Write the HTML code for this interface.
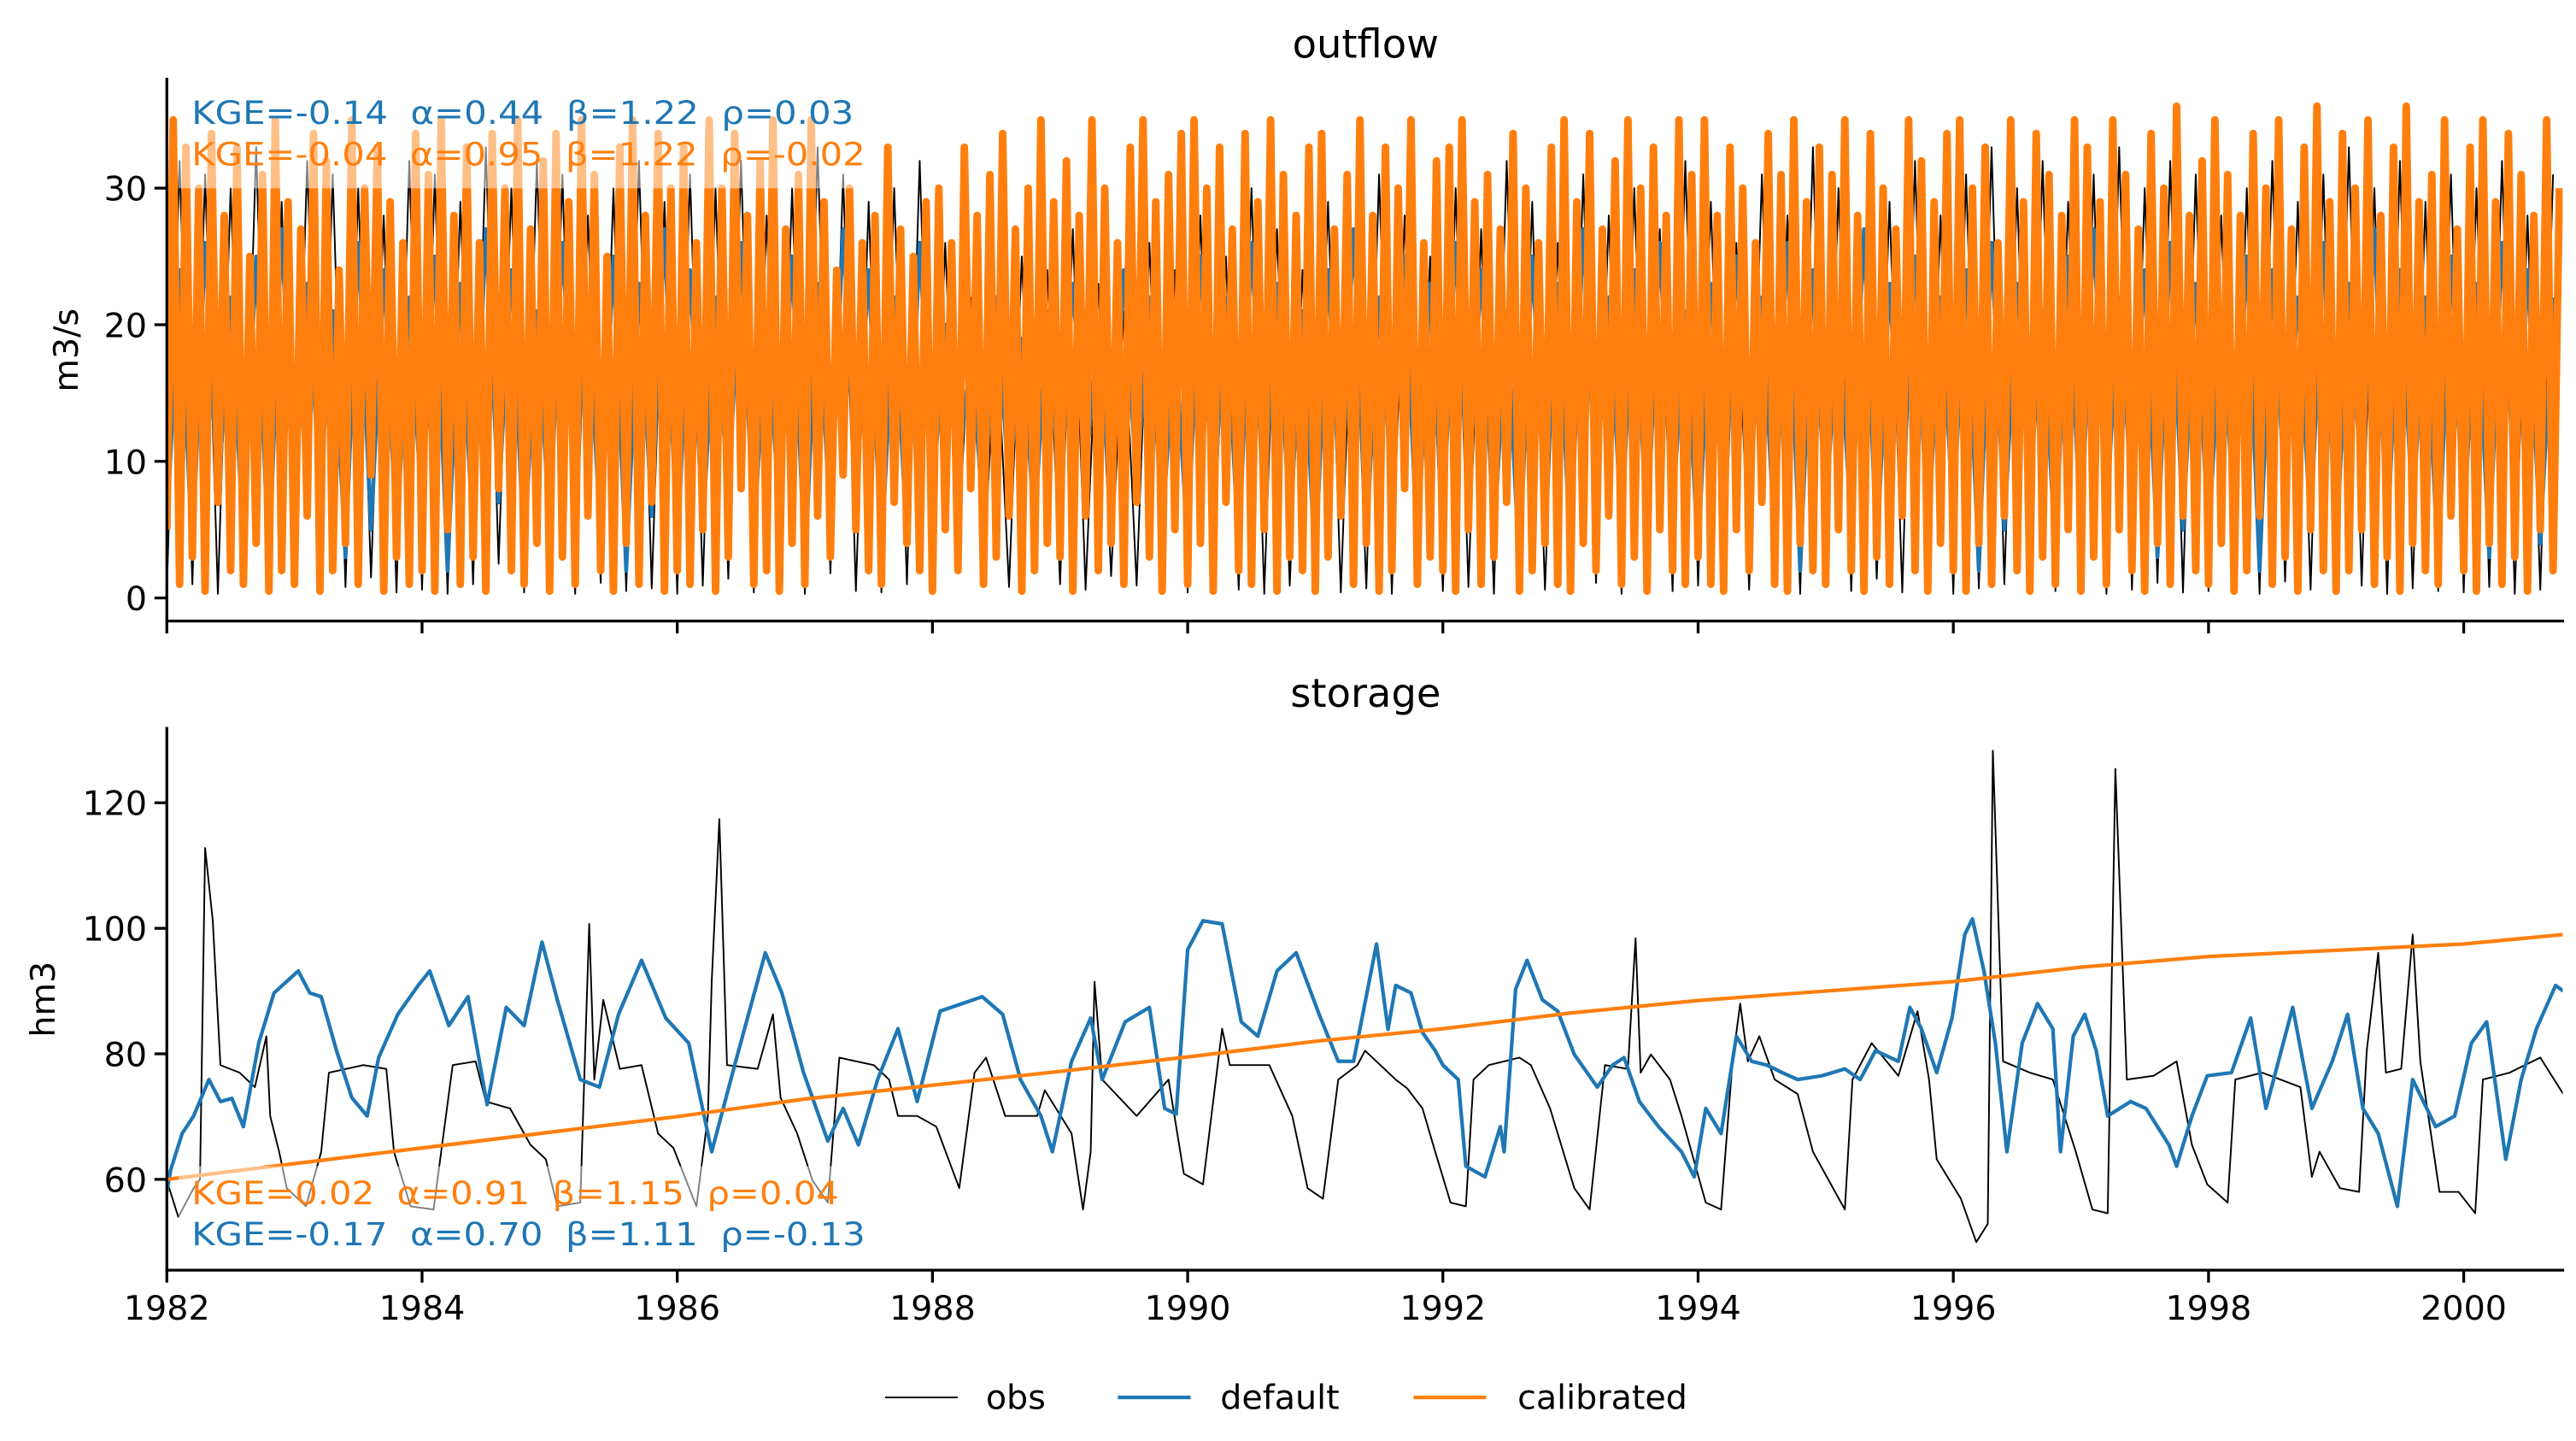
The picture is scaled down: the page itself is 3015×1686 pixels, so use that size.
<!DOCTYPE html>
<html><head><meta charset="utf-8"><style>
html,body{margin:0;padding:0;background:#fff;}
svg{display:block;font-family:"DejaVu Sans","Liberation Sans",sans-serif;}
</style></head><body>
<svg id="fig" xmlns="http://www.w3.org/2000/svg" width="3015" height="1686" viewBox="0 0 1560 872.4">
<rect x="0" y="0" width="1560" height="872.4" fill="#fff"/>
<g id="topPanel"></g>
<g id="botPanel"></g>
<g id="legend"></g>
</svg>
<script>
// ---------- data ----------
const years = [1982,1984,1986,1988,1990,1992,1994,1996,1998,2000];
const outflowTicks = [0,10,20,30];
const storageTicks = [60,80,100,120];
const outStart = 1982.0;
// calibrated outflow: peaks and troughs per 0.1 yr
const calHi = [35,33,30,34,28,33,25,31,35,29, 27,34,32,24,35,30,33,29,26,34, 31,35,28,33,26,34,30,35,27,32, 34,29,35,31,25,33,35,28,34,30, 33,26,35,30,34,28,32,35,27,31, 35,29,24,30,26,28,33,27,25,29, 30,26,33,28,31,34,27,30,35,29, 32,28,35,30,26,33,35,29,31,34, 35,30,33,27,34,29,35,31,28,33, 34,27,31,35,28,33,30,35,26,32, 33,35,29,31,27,34,30,26,33,35, 29,34,27,32,35,30,33,28,35,31, 35,28,33,30,26,34,31,35,29,33, 31,35,28,34,30,27,35,32,29,34, 35,30,33,26,35,29,34,31,28,35, 33,29,35,31,27,34,30,36,28,32, 35,31,28,34,30,35,27,33,36,29, 34,30,35,28,33,36,29,31,35,27, 33,35,29,34,31,28,35,30];
const calLo = [5,1,3,0.5,7,2,1,4,0.5,2, 1,6,0.5,2,4,1,9,0.5,3,1, 2,0.5,5,1,3,0.5,8,2,1,4, 0.5,3,1,6,2,0.5,4,1,7,0.5, 2,1,5,0.5,3,8,1,2,0.5,4, 1,6,3,9,5,2,1,7,4,2, 0.5,5,2,8,1,3,6,0.5,2,4, 3,0.5,6,2,4,1,7,3,0.5,5, 1,4,0.5,7,2,1,5,0.5,3,2, 0.5,3,6,1,4,0.5,2,8,1,3, 2,0.5,5,1,3,7,0.5,2,4,1, 0.5,4,2,6,1,3,0.5,5,2,1, 3,1,0.5,5,2,7,1,0.5,4,2, 1,5,2,0.5,3,1,6,2,0.5,4, 2,0.5,4,1,6,2,0.5,3,1,5, 0.5,3,1,5,2,0.5,4,1,6,2, 1,4,0.5,2,6,1,3,0.5,5,2, 0.5,2,5,1,3,0.5,4,2,1,6, 2,0.5,4,1,3,0.5,5,2];
// observed / default outflow: per 0.2 yr
const obsHi = [32,31,30,33,29,32,31,30,28,32, 31,29,33,30,32,31,28,30,32,29, 31,30,32,28,30,33,31,29,30,32, 26,22,20,25,24,27,23,21,26,24, 28,25,30,27,24,29,26,31,28,25, 30,27,32,29,26,31,28,30,27,32, 29,26,31,28,33,30,27,29,32,28, 31,33,30,32,29,31,33,30,32,31, 28,30,32,29,31,33,30,32,29,31, 30,32,28,31];
const obsLo = [0.5,1,0.3,2,0.4,1.2,0.3,0.8,1.5,0.4, 0.6,0.3,1,2.5,0.4,0.8,0.3,1.1,0.5,0.7, 0.3,0.9,1.4,0.4,0.6,0.3,1.8,0.5,0.4,1, 2,3,1.5,0.8,2.2,1,0.6,1.6,0.9,0.5, 0.4,1.2,0.6,0.3,0.9,1.5,0.4,0.7,0.3,1, 0.5,0.8,0.3,1.3,0.6,0.4,1.1,0.3,0.7,0.5, 0.9,0.4,0.6,1.2,0.3,0.8,0.5,1.4,0.4,0.6, 0.3,0.7,1,0.4,0.5,0.9,0.3,0.6,1.1,0.4, 0.5,0.8,0.3,1.2,0.6,0.4,0.9,0.3,0.7,0.5, 0.4,0.8,0.3,0.6];
const defHi = [24,26,22,25,27,23,21,26,24,22, 25,23,27,24,21,26,22,25,23,27, 24,22,26,21,25,23,27,24,22,26, 20,18,22,19,21,23,20,24,22,19, 25,22,26,23,21,24,27,22,25,23, 26,24,21,25,23,27,22,24,26,21, 23,25,22,26,24,21,27,23,25,22, 24,26,23,21,25,27,22,24,26,23, 21,25,24,22,26,23,27,24,22,25, 23,26,24,22];
const defLo = [5,3,7,4,2,6,8,3,5,4, 6,2,4,7,3,5,8,4,2,6, 3,5,7,4,6,2,5,8,3,4, 7,9,6,8,5,7,9,6,8,5, 4,6,3,7,5,2,6,4,8,3, 5,7,4,2,6,3,8,5,4,6, 3,5,7,4,2,6,5,3,7,4, 6,2,5,8,3,4,6,7,3,5, 4,6,2,7,5,3,8,4,6,2, 5,3,7,4];
// storage series (time, value)
const obsST = [1982.0,1982.09,1982.21,1982.26,1982.3,1982.36,1982.42,1982.57,1982.69,1982.78,1982.81,1982.88,1982.94,1983.09,1983.21,1983.27,1983.54,1983.72,1983.78,1983.91,1984.09,1984.24,1984.42,1984.5,1984.69,1984.85,1984.97,1985.06,1985.24,1985.31,1985.35,1985.42,1985.55,1985.72,1985.85,1985.97,1986.15,1986.24,1986.27,1986.33,1986.39,1986.63,1986.75,1986.81,1986.94,1987.06,1987.18,1987.27,1987.54,1987.66,1987.73,1987.88,1988.03,1988.21,1988.33,1988.42,1988.57,1988.82,1988.88,1989.09,1989.18,1989.24,1989.27,1989.33,1989.6,1989.85,1989.97,1990.12,1990.27,1990.33,1990.64,1990.82,1990.94,1991.06,1991.18,1991.33,1991.39,1991.63,1991.72,1991.84,1991.94,1992.06,1992.18,1992.24,1992.36,1992.6,1992.69,1992.84,1993.03,1993.15,1993.27,1993.45,1993.51,1993.55,1993.63,1993.78,1993.87,1994.06,1994.18,1994.27,1994.33,1994.39,1994.48,1994.6,1994.78,1994.9,1995.15,1995.21,1995.36,1995.57,1995.72,1995.81,1995.87,1996.06,1996.18,1996.27,1996.31,1996.39,1996.6,1996.78,1996.96,1997.09,1997.21,1997.27,1997.36,1997.57,1997.75,1997.87,1997.99,1998.15,1998.21,1998.42,1998.72,1998.81,1998.87,1999.03,1999.18,1999.24,1999.33,1999.39,1999.51,1999.6,1999.66,1999.81,1999.96,2000.09,2000.15,2000.36,2000.6,2000.78];
const obsSV = [59.8,54,58.6,60,112.8,101.2,78.2,77,74.7,82.8,70.1,64.4,58.6,55.7,64.4,77,78.2,77.6,64.4,55.7,55.2,78.2,78.8,72.4,71.3,65.5,63.2,55.7,56.3,100.7,75.9,88.6,77.6,78.2,67.3,65,55.7,70.1,91.5,117.4,78.2,77.6,86.3,73,67.3,59.8,56.3,79.4,78.2,75.9,70.1,70.1,68.4,58.6,77,79.4,70.1,70.1,74.2,67.3,55.2,64.4,91.5,75.9,70.1,75.9,60.9,59.2,84,78.2,78.2,70.1,58.6,56.9,75.9,78.2,80.5,75.9,74.5,71.3,64.4,56.3,55.7,75.9,78.2,79.4,78.2,71.3,58.6,55.2,78.2,77.6,98.4,77,79.9,75.9,70.1,56.3,55.2,78.8,88,78.8,82.8,75.9,73.6,64.4,55.2,75.9,81.7,76.5,86.8,75.9,63.2,56.9,50,52.9,128.3,78.8,77,75.9,64.4,55.2,54.6,125.4,75.9,76.5,78.8,65.5,59.2,56.3,75.9,77,74.7,60.4,64.4,58.6,58,80.5,96.1,77,77.6,99,78.8,58,58,54.6,75.9,77,79.4,73.6];
const defST = [1982.0,1982.03,1982.12,1982.21,1982.33,1982.42,1982.51,1982.6,1982.72,1982.84,1983.03,1983.12,1983.21,1983.33,1983.45,1983.57,1983.66,1983.81,1983.97,1984.06,1984.21,1984.36,1984.51,1984.66,1984.8,1984.94,1985.06,1985.24,1985.39,1985.54,1985.72,1985.91,1986.09,1986.27,1986.45,1986.69,1986.82,1986.99,1987.18,1987.3,1987.42,1987.57,1987.73,1987.88,1988.06,1988.39,1988.55,1988.69,1988.85,1988.94,1989.09,1989.24,1989.33,1989.51,1989.7,1989.82,1989.91,1990.0,1990.12,1990.27,1990.42,1990.55,1990.7,1990.85,1991.03,1991.18,1991.3,1991.48,1991.57,1991.63,1991.75,1991.84,1991.94,1992.0,1992.12,1992.18,1992.33,1992.45,1992.48,1992.57,1992.66,1992.78,1992.9,1993.03,1993.21,1993.33,1993.42,1993.54,1993.69,1993.87,1993.97,1994.06,1994.18,1994.3,1994.42,1994.54,1994.66,1994.78,1994.97,1995.15,1995.27,1995.39,1995.57,1995.66,1995.75,1995.87,1995.99,1996.09,1996.15,1996.24,1996.33,1996.42,1996.54,1996.66,1996.78,1996.84,1996.94,1997.03,1997.12,1997.21,1997.39,1997.51,1997.69,1997.75,1997.87,1997.99,1998.18,1998.33,1998.45,1998.66,1998.81,1998.97,1999.09,1999.21,1999.33,1999.48,1999.6,1999.78,1999.93,2000.06,2000.18,2000.33,2000.45,2000.57,2000.72,2000.78];
const defSV = [58,61.5,67.3,70.1,75.9,72.4,72.9,68.4,81.7,89.7,93.2,89.7,89.1,80.5,73,70.1,79.4,86.3,90.9,93.2,84.5,89.1,71.9,87.4,84.5,97.8,88.6,75.9,74.7,86.3,94.9,85.7,81.7,64.4,78.2,96.1,89.7,77,66.1,71.3,65.5,75.9,84,72.4,86.8,89.1,86.3,75.9,70.1,64.4,78.8,85.7,75.9,85.1,87.4,71.3,70.4,96.6,101.2,100.7,85.1,82.8,93.2,96.1,86.3,78.8,78.8,97.5,83.9,90.9,89.7,83.4,80.5,78.2,75.9,62.1,60.4,68.4,64.4,90.3,94.9,88.6,86.8,79.9,74.7,78.2,79.4,72.4,68.4,64.4,60.4,71.3,67.3,82.8,78.8,78.2,77,75.9,76.5,77.6,75.9,80.5,78.8,87.4,84,77,85.7,99,101.5,93.2,81.7,64.4,81.7,88,84,64.4,82.8,86.3,80.5,70.1,72.4,71.3,65.5,62.1,70.1,76.5,77,85.7,71.3,87.4,71.3,78.8,86.3,71.3,67.3,55.7,75.9,68.4,70.1,81.7,85.1,63.2,75.9,84,90.9,90];
const calST = [1982,1983,1984,1985,1986,1987,1988,1989,1990,1991,1992,1993,1994,1995,1996,1997,1998,1999,2000,2000.78];
const calSV = [60,62.5,65,67.5,70,72.8,75,77.2,79.5,82,84,86.5,88.5,90,91.5,93.8,95.5,96.5,97.5,99];

// ---------- drawing ----------
const NS = "http://www.w3.org/2000/svg";
function mk(tag, attrs, parent){ const e=document.createElementNS(NS,tag); for(const k in attrs) e.setAttribute(k,attrs[k]); parent.appendChild(e); return e; }
const X0=101, XR=1552, PXY=77.28;
const xs = t => X0 + (t-1982)*PXY;
const yTop = v => 362 - v*8.27;
const yBot = v => 714 - (v-60)*3.8;
const topG = document.getElementById('topPanel'), botG = document.getElementById('botPanel'), legG = document.getElementById('legend');
const fig = document.getElementById('fig');

function poly(pts, color, w, parent, name){
  const p = mk('polyline',{points:pts.map(a=>a[0].toFixed(2)+','+a[1].toFixed(2)).join(' '),fill:'none',stroke:color,'stroke-width':w,'stroke-linejoin':'round'},parent);
  
  
  return p;
}
const clipT = mk('clipPath',{id:'ct'},fig); mk('rect',{x:X0,y:40,width:XR-X0,height:336},clipT);
const clipB = mk('clipPath',{id:'cb'},fig); mk('rect',{x:X0,y:430,width:XR-X0,height:339},clipB);
const gT = mk('g',{'clip-path':'url(#ct)'},topG);
const gB = mk('g',{'clip-path':'url(#cb)'},botG);

function zig(hi, lo, step){ const pts=[]; for(let i=0;i<hi.length;i++){ const t=outStart+i*step; pts.push([xs(t), yTop(lo[i])]); pts.push([xs(t+step/2), yTop(hi[i])]); } return pts; }
poly(zig(obsHi,obsLo,0.2),'#000',1.0,gT,'outflow-obs-line');
poly(zig(defHi,defLo,0.2),'#1f77b4',2.4,gT,'outflow-default-line');
poly(zig(calHi,calLo,0.1),'#ff7f0e',4.6,gT,'outflow-calibrated-line');

poly(obsST.map((t,i)=>[xs(t),yBot(obsSV[i])]),'#000',1.0,gB,'storage-obs-line');
poly(defST.map((t,i)=>[xs(t),yBot(defSV[i])]),'#1f77b4',2.2,gB,'storage-default-line');
poly(calST.map((t,i)=>[xs(t),yBot(calSV[i])]),'#ff7f0e',2.2,gB,'storage-calibrated-line');

function txt(s, attrs, parent, name){ const e=mk('text',attrs,parent); e.textContent=s;   return e; }

mk('rect',{x:108,y:56,width:420,height:58,fill:'#fff','fill-opacity':0.5},topG);
mk('rect',{x:108,y:706,width:420,height:56,fill:'#fff','fill-opacity':0.5},botG);
const ta = {'font-size':19.5,lengthAdjust:'spacingAndGlyphs',style:'white-space:pre'};
txt('KGE=-0.14  α=0.44  β=1.22  ρ=0.03',Object.assign({x:116,y:75,fill:'#1f77b4',textLength:401},ta),topG,'kge-default-outflow');
txt('KGE=-0.04  α=0.95  β=1.22  ρ=-0.02',Object.assign({x:116,y:100,fill:'#ff7f0e',textLength:408},ta),topG,'kge-calibrated-outflow');
txt('KGE=0.02  α=0.91  β=1.15  ρ=0.04',Object.assign({x:116,y:729,fill:'#ff7f0e',textLength:392},ta),botG,'kge-calibrated-storage');
txt('KGE=-0.17  α=0.70  β=1.11  ρ=-0.13',Object.assign({x:116,y:754,fill:'#1f77b4',textLength:408},ta),botG,'kge-default-storage');

function axes(parent, yTopPx, yBotPx, yfn, ticks, pre){
  mk('line',{x1:X0,y1:yTopPx,x2:X0,y2:yBotPx,stroke:'#000','stroke-width':1.7,'stroke-linecap':'square'},parent);
  mk('line',{x1:X0,y1:yBotPx,x2:XR,y2:yBotPx,stroke:'#000','stroke-width':1.7,'stroke-linecap':'square'},parent);
  ticks.forEach(v=>{ const y=yfn(v); mk('line',{x1:X0-7.5,y1:y,x2:X0,y2:y,stroke:'#000','stroke-width':1.7},parent);
    txt(String(v),{x:X0-12,y:y+7.5,'text-anchor':'end','font-size':20.5,fill:'#000'},parent,pre+'-ytick-'+v); });
  years.forEach(yr=>{ const x=xs(yr); mk('line',{x1:x,y1:yBotPx,x2:x,y2:yBotPx+7.5,stroke:'#000','stroke-width':1.7},parent); });
}
axes(topG,48,376,yTop,outflowTicks,'outflow');
axes(botG,441,769,yBot,storageTicks,'storage');
years.forEach(yr=>{ txt(String(yr),{x:xs(yr),y:799,'text-anchor':'middle','font-size':20.5,fill:'#000'},botG,'xtick-'+yr); });
txt('outflow',{x:827,y:35,'text-anchor':'middle','font-size':24,fill:'#000'},topG,'outflow-title');
txt('storage',{x:827,y:428,'text-anchor':'middle','font-size':24,fill:'#000'},botG,'storage-title');
txt('m3/s',{x:0,y:0,'text-anchor':'middle','font-size':20.5,fill:'#000',transform:'translate(47,212) rotate(-90)'},topG,'outflow-y-axis-title');
txt('hm3',{x:0,y:0,'text-anchor':'middle','font-size':20.5,fill:'#000',transform:'translate(33,605) rotate(-90)'},botG,'storage-y-axis-title');

const legItems = [['obs','#000',1.0,536,597],['default','#1f77b4',2.2,677,739],['calibrated','#ff7f0e',2.2,856,919]];
legItems.forEach(it=>{
  const g = mk('g',{},legG);
  
  
  mk('line',{x1:it[3],y1:846,x2:it[3]+44,y2:846,stroke:it[1],'stroke-width':it[2]},g);
  txt(it[0],{x:it[4],y:853,'font-size':20.5,fill:'#000'},g,'legend-label-'+it[0]);
});
</script>
</body></html>
